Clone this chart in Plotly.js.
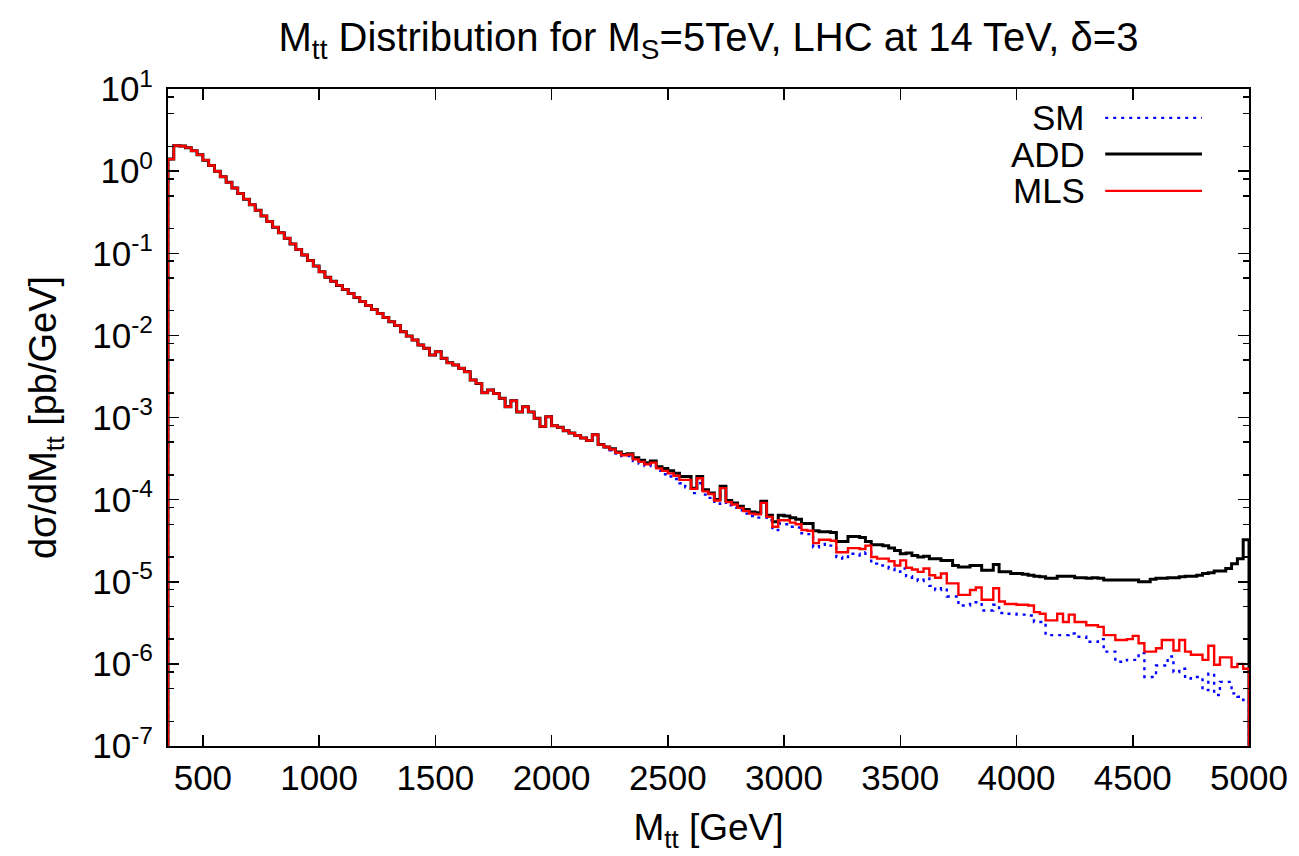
<!DOCTYPE html>
<html>
<head>
<meta charset="utf-8">
<script src="https://cdn.plot.ly/plotly-3.0.1.min.js"></script>
<style>
html,body{margin:0;padding:0;background:#fff;}
#chart{width:1299px;height:856px;}
</style>
</head>
<body>
<div id="chart"></div>
<script>
// Histogram binning (GeV)
const binStart = 350;
const binWidth = 25;

// Bins 350-2250 GeV: the three curves coincide
const sharedLowMass = [
  1.40, 2.04, 2.02, 1.93, 1.77, 1.58, 1.36, 1.17, 0.997, 0.853,
  0.730, 0.624, 0.533, 0.456, 0.390, 0.333, 0.285, 0.244, 0.208, 0.178,
  0.152, 0.130, 0.111, 0.0953, 0.0815, 0.0697, 0.0596, 0.0509, 0.0455, 0.0406,
  0.0363, 0.0324, 0.0290, 0.0259, 0.0231, 0.0207, 0.0185, 0.0165, 0.0147, 0.0132,
  0.0111, 0.00980, 0.00877, 0.00762, 0.00695, 0.00575, 0.00631, 0.00525, 0.00463, 0.00435,
  0.00398, 0.00361, 0.00286, 0.00260, 0.00200, 0.00216, 0.00196, 0.00171, 0.00135, 0.00160,
  0.00117, 0.00135, 0.00117, 0.000977, 0.000776, 0.00102, 0.000794, 0.000759, 0.000692, 0.000646,
  0.000603, 0.000562, 0.000525, 0.000617, 0.000468, 0.000437
];

// Bins 2250-5000 GeV
const smHighMass = [
  3.98e-4, 3.63e-4, 3.39e-4, 3.39e-4, 2.95e-4, 2.75e-4, 2.57e-4, 2.63e-4, 2.24e-4, 2.04e-4, 1.91e-4, 1.78e-4,
  1.58e-4, 1.41e-4, 1.20e-4, 1.58e-4, 1.15e-4, 1.05e-4, 8.91e-5, 1.17e-4, 8.51e-5, 7.94e-5,
  7.41e-5, 6.76e-5, 6.31e-5, 6.03e-5, 7.59e-5, 5.62e-5, 4.27e-5, 5.13e-5, 5.01e-5, 4.68e-5,
  4.57e-5, 3.89e-5, 3.80e-5, 2.63e-5, 2.82e-5, 2.88e-5, 2.75e-5, 2.00e-5, 1.91e-5, 2.19e-5,
  2.19e-5, 2.09e-5, 2.29e-5, 1.66e-5, 1.58e-5, 1.51e-5, 1.45e-5, 1.32e-5, 1.45e-5, 1.17e-5,
  1.12e-5, 1.02e-5, 1.10e-5, 8.91e-6, 7.94e-6, 8.32e-6, 6.61e-6, 6.61e-6, 5.13e-6, 5.13e-6,
  5.62e-6, 5.62e-6, 4.47e-6, 4.47e-6, 5.25e-6, 4.17e-6, 4.07e-6, 4.07e-6, 3.98e-6, 3.98e-6,
  3.89e-6, 3.24e-6, 3.24e-6, 2.34e-6, 2.24e-6, 2.24e-6, 2.24e-6, 2.34e-6, 2.14e-6, 2.14e-6,
  1.86e-6, 1.86e-6, 2.00e-6, 1.41e-6, 1.41e-6, 1.06e-6, 1.06e-6, 1.12e-6, 1.12e-6, 1.35e-6,
  6.92e-7, 6.92e-7, 9.55e-7, 9.55e-7, 1.23e-6, 7.94e-7, 8.71e-7, 6.61e-7, 6.92e-7, 6.92e-7,
  4.79e-7, 7.59e-7, 4.17e-7, 6.03e-7, 6.03e-7, 4.37e-7, 3.98e-7, 3.63e-7
];

const addHighMass = [
  4.17e-4, 3.80e-4, 3.55e-4, 3.63e-4, 3.24e-4, 3.02e-4, 2.82e-4, 2.95e-4, 2.51e-4, 2.40e-4, 2.24e-4, 2.09e-4,
  1.91e-4, 1.91e-4, 1.38e-4, 1.91e-4, 1.32e-4, 1.20e-4, 1.00e-4, 1.45e-4, 9.77e-5, 9.12e-5,
  8.32e-5, 7.59e-5, 7.08e-5, 6.92e-5, 9.55e-5, 6.46e-5, 5.37e-5, 6.46e-5, 6.31e-5, 6.03e-5,
  5.75e-5, 5.13e-5, 5.13e-5, 4.17e-5, 4.07e-5, 4.07e-5, 3.98e-5, 3.09e-5, 3.09e-5, 3.55e-5,
  3.55e-5, 3.47e-5, 3.09e-5, 2.82e-5, 2.82e-5, 2.75e-5, 2.57e-5, 2.40e-5, 2.19e-5, 2.24e-5,
  2.09e-5, 2.00e-5, 2.04e-5, 1.91e-5, 1.91e-5, 1.82e-5, 1.82e-5, 1.58e-5, 1.51e-5, 1.51e-5,
  1.58e-5, 1.58e-5, 1.38e-5, 1.38e-5, 1.62e-5, 1.32e-5, 1.32e-5, 1.26e-5, 1.26e-5, 1.23e-5,
  1.20e-5, 1.17e-5, 1.15e-5, 1.10e-5, 1.10e-5, 1.17e-5, 1.17e-5, 1.17e-5, 1.12e-5, 1.12e-5,
  1.10e-5, 1.12e-5, 1.10e-5, 1.05e-5, 1.05e-5, 1.05e-5, 1.05e-5, 1.05e-5, 1.05e-5, 1.00e-5,
  1.00e-5, 1.07e-5, 1.10e-5, 1.10e-5, 1.12e-5, 1.12e-5, 1.15e-5, 1.17e-5, 1.17e-5, 1.20e-5,
  1.26e-5, 1.29e-5, 1.35e-5, 1.35e-5, 1.45e-5, 1.66e-5, 1.91e-5, 3.24e-5
];

const mlsHighMass = [
  4.07e-4, 3.72e-4, 3.47e-4, 3.55e-4, 3.09e-4, 2.88e-4, 2.69e-4, 2.82e-4, 2.40e-4, 2.24e-4, 2.09e-4, 1.95e-4,
  1.74e-4, 1.74e-4, 1.35e-4, 1.82e-4, 1.26e-4, 1.17e-4, 9.77e-5, 1.38e-4, 9.33e-5, 8.71e-5,
  7.94e-5, 7.24e-5, 6.76e-5, 6.61e-5, 9.12e-5, 6.17e-5, 4.68e-5, 5.62e-5, 5.62e-5, 5.25e-5,
  5.01e-5, 4.27e-5, 4.17e-5, 2.95e-5, 3.24e-5, 3.24e-5, 3.16e-5, 2.29e-5, 2.29e-5, 2.57e-5,
  2.57e-5, 2.51e-5, 2.75e-5, 2.00e-5, 1.91e-5, 1.91e-5, 1.78e-5, 1.58e-5, 1.82e-5, 1.48e-5,
  1.41e-5, 1.32e-5, 1.45e-5, 1.20e-5, 1.12e-5, 1.26e-5, 9.55e-6, 9.55e-6, 6.92e-6, 6.92e-6,
  7.94e-6, 8.51e-6, 6.03e-6, 6.03e-6, 8.32e-6, 5.75e-6, 5.37e-6, 5.37e-6, 5.25e-6, 5.25e-6,
  5.13e-6, 4.27e-6, 4.07e-6, 3.39e-6, 3.39e-6, 4.07e-6, 3.24e-6, 3.98e-6, 3.24e-6, 3.24e-6,
  2.95e-6, 2.95e-6, 2.82e-6, 2.24e-6, 2.24e-6, 1.95e-6, 1.95e-6, 2.00e-6, 2.19e-6, 1.78e-6,
  1.41e-6, 1.41e-6, 1.55e-6, 1.95e-6, 1.95e-6, 1.45e-6, 1.95e-6, 1.41e-6, 1.29e-6, 1.29e-6,
  1.12e-6, 1.66e-6, 9.77e-7, 1.20e-6, 1.20e-6, 9.12e-7, 1.00e-6, 8.71e-7
];

const smValues  = sharedLowMass.concat(smHighMass);
const addValues = sharedLowMass.concat(addHighMass);
const mlsValues = sharedLowMass.concat(mlsHighMass);

const seriesNames = ['SM', 'ADD', 'MLS'];
const xTickVals = [500, 1000, 1500, 2000, 2500, 3000, 3500, 4000, 4500, 5000];
const yExponents = [-7, -6, -5, -4, -3, -2, -1, 0, 1];
const yTickLabels = yExponents.map(e => '10<sup>' + e + '</sup>');
const yMinorMantissas = [2, 5, 8];

const FONT = 'Liberation Sans, Arial, Helvetica, sans-serif';
const yRange = [-7, 1];
const floorVal = Math.pow(10, yRange[0] - 2);

// step outline for a histogram: closed down to the axis at both ends
function stepOutline(vals) {
  const x = [binStart], y = [floorVal];
  vals.forEach((v, i) => { x.push(binStart + i * binWidth); y.push(v); });
  const xEnd = binStart + vals.length * binWidth;
  x.push(xEnd); y.push(vals[vals.length - 1]);
  x.push(xEnd); y.push(floorVal);
  return {x, y};
}

const styles = [
  {color: '#0000ff', width: 2.4, dash: '3px,5px'},
  {color: '#000000', width: 3, dash: 'solid'},
  {color: '#ff0000', width: 2.4, dash: 'solid'}
];
const allSeries = [smValues, addValues, mlsValues];

const traces = allSeries.map((vals, k) => {
  const o = stepOutline(vals);
  return {
    x: o.x, y: o.y, type: 'scatter', mode: 'lines', name: seriesNames[k],
    line: {shape: 'hv', color: styles[k].color, width: styles[k].width, dash: styles[k].dash},
    showlegend: false, hoverinfo: 'skip'
  };
});

const minorVals = [];
yExponents.forEach(e => { if (e < 1) yMinorMantissas.forEach(m => minorVals.push(m * Math.pow(10, e))); });

// custom legend (text left, sample right) in paper coordinates
const legendY = [0.956, 0.901, 0.845];
const annotations = seriesNames.map((n, k) => ({
  text: n, xref: 'paper', yref: 'paper', x: 0.850, y: legendY[k],
  xanchor: 'right', yanchor: 'middle', showarrow: false,
  font: {family: FONT, size: 35, color: '#000'}
}));
const shapes = seriesNames.map((n, k) => ({
  type: 'line', xref: 'paper', yref: 'paper', x0: 0.867, x1: 0.9565, y0: legendY[k], y1: legendY[k],
  line: {color: styles[k].color, width: styles[k].width, dash: styles[k].dash}
}));

const layout = {
  width: 1299, height: 856,
  paper_bgcolor: '#fff', plot_bgcolor: '#fff',
  margin: {l: 168, r: 50, t: 89, b: 110},
  font: {family: FONT, size: 35, color: '#000'},
  title: {
    text: 'M<sub>tt</sub> Distribution for M<sub>S</sub>=5TeV, LHC at 14 TeV, δ=3',
    x: 0.5, xref: 'paper', y: 0.957, yref: 'container', yanchor: 'middle',
    font: {family: FONT, size: 40, color: '#000'}
  },
  xaxis: {
    range: [binStart, binStart + 186 * binWidth],
    tickmode: 'array', tickvals: xTickVals, ticktext: xTickVals.map(String),
    ticks: 'inside', ticklen: 11, tickwidth: 1.5, tickcolor: '#000',
    showline: true, linewidth: 2, linecolor: '#000', mirror: 'ticks',
    showgrid: false, zeroline: false,
    tickfont: {family: FONT, size: 35},
    title: {text: 'M<sub>tt</sub> [GeV]', font: {family: FONT, size: 37}, standoff: 18}
  },
  yaxis: {
    type: 'log', range: yRange,
    tickmode: 'array', tickvals: yExponents.map(e => Math.pow(10, e)), ticktext: yTickLabels,
    ticks: 'inside', ticklen: 11, tickwidth: 1.5, tickcolor: '#000',
    ticklabelstandoff: 6,
    minor: {tickmode: 'array', tickvals: minorVals, ticks: 'inside', ticklen: 6, tickwidth: 1.5, tickcolor: '#000', showgrid: false},
    showline: true, linewidth: 2, linecolor: '#000', mirror: 'ticks',
    showgrid: false, zeroline: false,
    tickfont: {family: FONT, size: 35},
    title: {text: 'dσ/dM<sub>tt</sub> [pb/GeV]', font: {family: FONT, size: 38}, standoff: 24}
  },
  annotations: annotations,
  shapes: shapes
};

Plotly.newPlot('chart', traces, layout, {staticPlot: true, displayModeBar: false});
</script>
</body>
</html>
